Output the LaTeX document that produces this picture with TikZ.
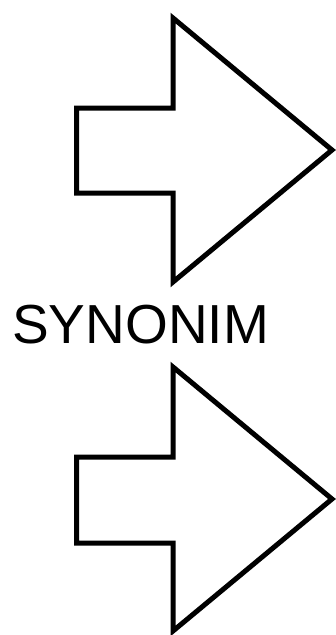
\documentclass[tikz,border=0pt]{standalone}
\usepackage{fontspec}
\setmainfont{Liberation Sans}
\begin{document}
\begin{tikzpicture}[x=1pt,y=-1pt,
  bigarrow/.style={draw=black,line width=5pt,line join=miter,fill=white},
  label/.style={inner sep=0pt,anchor=base west,font=\fontsize{55}{60}\selectfont}]
\useasboundingbox (0,0) rectangle (336,635);
\draw[bigarrow] (76.5,108) -- (173,108) -- (173,18) -- (332,150) -- (173,282) -- (173,193) -- (76.5,193) -- cycle;
\node[label] (syn) at (12,343) {SYNONIM};
\draw[bigarrow] (76.5,457) -- (173,457) -- (173,367) -- (332,499) -- (173,631) -- (173,543) -- (76.5,543) -- cycle;
\end{tikzpicture}
\end{document}
